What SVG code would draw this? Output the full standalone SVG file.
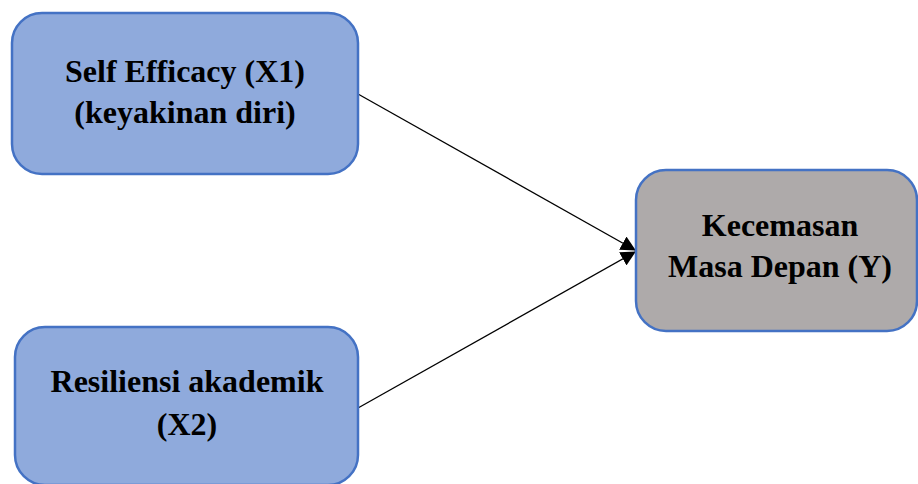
<svg xmlns="http://www.w3.org/2000/svg" width="918" height="484" viewBox="0 0 918 484">
<style>
.box{stroke:#4472C4;stroke-width:2.5}
.blue{fill:#8FAADC}
.gray{fill:#AEAAAA}
.t{font-family:"Liberation Serif","Times New Roman",serif;font-weight:bold;font-size:32px;fill:#000;text-anchor:middle}
.edge{stroke:#000;stroke-width:1.3;fill:none}
</style>
<defs>
<marker id="ah" markerWidth="15" markerHeight="15" viewBox="0 0 15 15" refX="14" refY="7.5" orient="auto" markerUnits="userSpaceOnUse">
<path d="M0,0 L15,7.5 L0,15 Z" fill="#000"/>
</marker>
</defs>
<rect width="918" height="484" fill="#fff"/>
<g id="connectors">
<line class="edge" x1="358" y1="94" x2="635" y2="250" marker-end="url(#ah)"/>
<line class="edge" x1="358" y1="408" x2="635" y2="252" marker-end="url(#ah)"/>
</g>
<g id="x1">
<rect class="box blue" x="12" y="13" width="346" height="161" rx="30" ry="30"/>
<text class="t" x="185" y="82">Self Efficacy (X1)</text>
<text class="t" x="185" y="123">(keyakinan diri)</text>
</g>
<g id="x2">
<rect class="box blue" x="15" y="327" width="343" height="158" rx="30" ry="30"/>
<text class="t" x="187" y="392">Resiliensi akademik</text>
<text class="t" x="187" y="435">(X2)</text>
</g>
<g id="y">
<rect class="box gray" x="636" y="170" width="281" height="161" rx="30" ry="30"/>
<text class="t" x="780" y="236">Kecemasan</text>
<text class="t" x="780" y="277">Masa Depan (Y)</text>
</g>
</svg>
